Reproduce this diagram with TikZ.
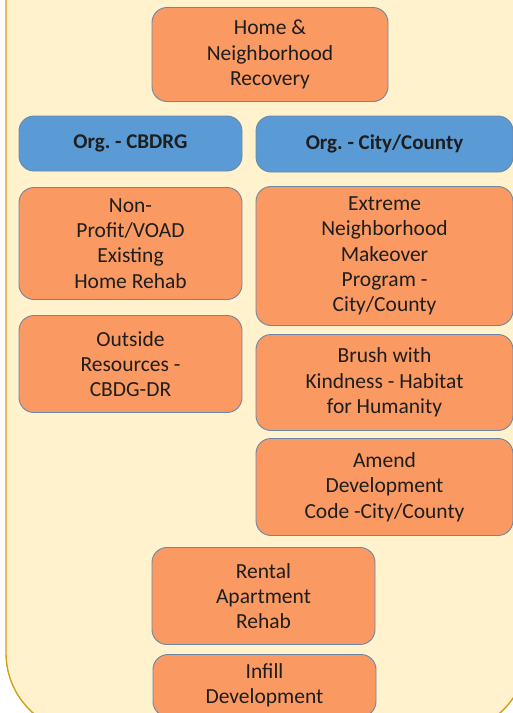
\documentclass[tikz,border=0pt]{standalone}
\usepackage{fontspec}
\setmainfont{Carlito}
\frenchspacing
\definecolor{panelfill}{HTML}{FFF2CC}
\definecolor{paneldraw}{HTML}{D4A017}
\definecolor{orangefill}{HTML}{FB9962}
\definecolor{bluefill}{HTML}{5B9BD5}
\definecolor{boxdraw}{HTML}{6D87A8}
\definecolor{txt}{HTML}{1E1E1E}
\tikzset{
  box/.style={draw=boxdraw, line width=0.9pt, rounded corners=15pt, align=center,
    text=txt, font=\fontsize{21.5}{25.3}\selectfont, inner sep=0pt},
  actbox/.style={box, fill=orangefill},
  orgbox/.style={box, fill=bluefill, font=\fontsize{21}{25.3}\selectfont\bfseries},
}
\begin{document}
\begin{tikzpicture}[x=1pt,y=-1pt]
\useasboundingbox (0,0) rectangle (513,713);
% background panel
\draw[fill=panelfill, draw=paneldraw, line width=1.4pt, rounded corners=80pt]
  (6,-200) -- (6,733) -- (527,733) -- (527,-200) -- cycle;
\node[actbox, minimum width=236, minimum height=94] (home) at (270,54.5) {Home \&\\Neighborhood\\Recovery};
\node[orgbox, minimum width=223, minimum height=55] (cbdrg) at (130.5,143.5) {Org. - CBDRG};
\node[orgbox, minimum width=257, minimum height=56] (city) at (384.5,144) {Org. - City/County};
\node[actbox, minimum width=223, minimum height=112] (nonprofit) at (130.5,243.5) {Non-\\Profit/VOAD\\Existing\\Home Rehab};
\node[actbox, minimum width=257, minimum height=139] (extreme) at (384.5,256) {Extreme\\Neighborhood\\Makeover\\Program -\\City/County};
\node[actbox, minimum width=223, minimum height=97] (outside) at (130.5,364) {Outside\\Resources -\\CBDG-DR};
\node[actbox, minimum width=257, minimum height=96] (brush) at (384.5,382.5) {Brush with\\Kindness - Habitat\\for Humanity};
\node[actbox, minimum width=257, minimum height=97] (amend) at (384.5,487) {Amend\\Development\\Code -City/County};
\node[actbox, minimum width=223, minimum height=97] (rental) at (263.5,596) {Rental\\Apartment\\Rehab};
\node[actbox, minimum width=223, minimum height=62] (infill) at (264.5,685.5) {Infill\\Development};
\end{tikzpicture}
\end{document}
